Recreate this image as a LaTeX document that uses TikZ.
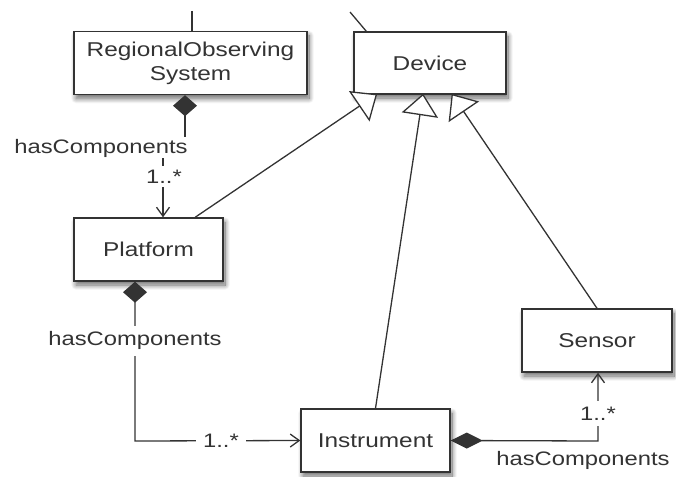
\documentclass[tikz,border=0pt]{standalone}
\usepackage{fontspec}
\setmainfont{Liberation Sans}[FakeStretch=1.22]
\usetikzlibrary{arrows.meta,shadows.blur,calc}
\definecolor{ink}{HTML}{333333}
\tikzset{
  barb/.tip={Straight Barb[length=9pt, width=13pt]},
  dia/.tip={Diamond[length=21pt, width=24pt]},
  diah/.tip={Diamond[length=32pt, width=16pt]}
}
\newcommand{\genarrow}[2]{%
  \coordinate (#2base) at ($(#2)!20pt!(#1)$);
  \draw[conn] (#1) -- (#2base);
  \draw[conn, fill=white, line join=miter] (#2) -- ($(#2base)!17pt!90:(#2)$) -- ($(#2base)!17pt!-90:(#2)$) -- cycle;
}
\begin{document}
\begin{tikzpicture}[x=1pt,y=-1pt,
  box/.style={draw=ink, line width=1.4pt, fill=white, minimum height=63pt, inner sep=0pt,
    font=\fontsize{20}{24}\selectfont, text=ink, align=center,
    blur shadow={shadow xshift=2pt, shadow yshift=-4pt, shadow blur steps=12,
      shadow blur radius=5pt, shadow opacity=60}},
  lbl/.style={font=\fontsize{19.5}{22}\selectfont, text=ink, inner sep=0pt},
  gap/.style={lbl, fill=white, inner xsep=7pt, inner ysep=6pt},
  conn/.style={draw=ink, line width=1.3pt}
]
\useasboundingbox (0,0) rectangle (676,476);

% classes
\node[box, minimum width=233pt] (ros) at (190.5,63) {RegionalObserving\\System};
\node[box, minimum width=152pt, minimum height=62pt] (device) at (430,63) {Device};
\node[box, minimum width=149pt] (platform) at (148.5,249.5) {Platform};
\node[box, minimum width=150pt] (sensor) at (597,340.5) {Sensor};
\node[box, minimum width=149pt] (instrument) at (375.5,440.5) {Instrument};

% cut lines at the top
\coordinate (top1) at (192,11);
\draw[conn] (top1) -- (ros.north -| top1);
\coordinate (top2) at (350,12);
\draw[conn] (top2) -- ($(device.north west)+(13,0)$);

% RegionalObservingSystem -> Platform
\coordinate (rA) at (185,137);
\draw[conn, dia-] (ros.south -| rA) -- (rA);
\node[lbl] (hc1) at (101,148) {hasComponents};
\coordinate (rB) at (163,158);
\coordinate (rC) at (163,166);
\draw[conn] (rB) -- (rC);
\node[lbl] (m1) at (164,177) {1..*};
\coordinate (rD) at (163,187);
\draw[conn, -barb] (rD) -- (platform.north -| rD);

% Platform -> Instrument
\coordinate (pX) at (135,0);
\coordinate (pC) at (135,441);
\draw[conn, dia-barb] (platform.south -| pX)
  -- node[gap, pos=0.37] (hc2) {hasComponents} (pC)
  -- node[gap, pos=0.52] (m2) {1..*} (instrument.west);

% Instrument -> Sensor
\coordinate (sX) at (598,441);
\draw[conn, diah-barb] (instrument.east) -- (sX)
  -- node[gap, pos=0.40, inner ysep=6pt] (m3) {1..*} (sensor.south -| sX);
\node[lbl] (hc3) at (583,460) {hasComponents};

% generalizations
\coordinate (g1s) at ($(platform.north west)!0.81!(platform.north east)$);
\coordinate (g1t) at ($(device.south west)!0.15!(device.south east)$);
\coordinate (g2s) at (instrument.north);
\coordinate (g2t) at ($(device.south west)!0.454!(device.south east)$);
\coordinate (g3s) at (sensor.north);
\coordinate (g3t) at ($(device.south west)!0.645!(device.south east)$);
\genarrow{g1s}{g1t}
\genarrow{g2s}{g2t}
\genarrow{g3s}{g3t}
\end{tikzpicture}
\end{document}
